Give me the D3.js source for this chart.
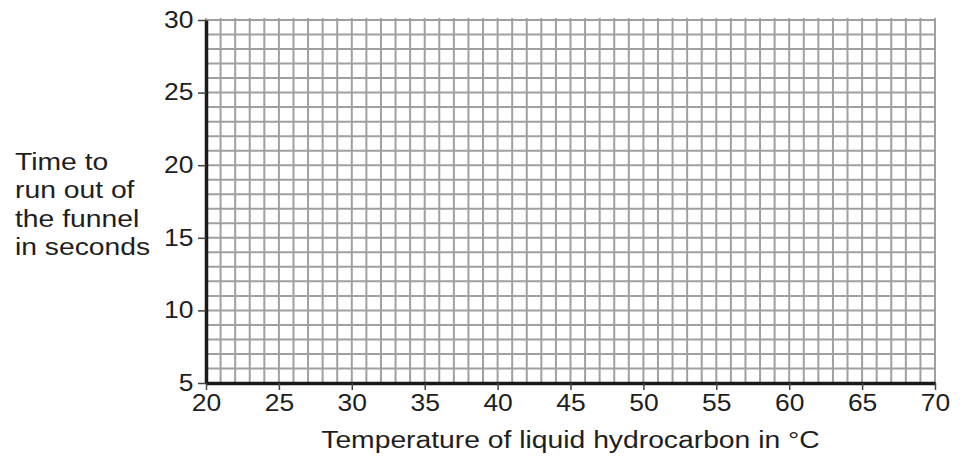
<!DOCTYPE html>
<html>
<head>
<meta charset="utf-8">
<script src="https://cdn.jsdelivr.net/npm/d3@7"></script>
<style>
  body { margin: 0; background: #fff; }
  svg { display: block; font-family: "Liberation Sans", Arial, sans-serif; }
</style>
</head>
<body>
<script>
// axis ranges and tick labels
const xDomain = [20, 70];
const yDomain = [5, 30];
const xTicks = [20, 25, 30, 35, 40, 45, 50, 55, 60, 65, 70];
const yTicks = [5, 10, 15, 20, 25, 30];
const xTitle = "Temperature of liquid hydrocarbon in °C";
const yTitleLines = ["Time to", "run out of", "the funnel", "in seconds"];

const width = 960;
const height = 461;
const margin = { top: 20, right: 25, bottom: 78, left: 206 };
// the scanned sheet is a bit wider than tall, so text is stretched sideways
const stretch = 1.23;

const svg = d3.select("body")
  .append("svg")
  .attr("width", width)
  .attr("height", height);

const x = d3.scaleLinear()
  .domain(xDomain)
  .range([margin.left, width - margin.right]);

const y = d3.scaleLinear()
  .domain(yDomain)
  .range([height - margin.bottom, margin.top]);

// fine grid, one line per unit
const grid = svg.append("g").attr("stroke", "#a0a0a0").attr("stroke-width", 2);

grid.selectAll(".vgrid")
  .data(x.ticks(xDomain[1] - xDomain[0]))
  .enter()
  .append("line")
  .attr("x1", d => x(d))
  .attr("x2", d => x(d))
  .attr("y1", y(yDomain[1]) - 2)
  .attr("y2", y(yDomain[0]));

grid.selectAll(".hgrid")
  .data(y.ticks(yDomain[1] - yDomain[0]))
  .enter()
  .append("line")
  .attr("x1", x(xDomain[0]))
  .attr("x2", x(xDomain[1]) + 1)
  .attr("y1", d => y(d))
  .attr("y2", d => y(d));

// axes
const xAxis = svg.append("g")
  .attr("transform", `translate(0,${y(yDomain[0])})`)
  .call(d3.axisBottom(x).tickValues(xTicks).tickSize(7).tickPadding(5).tickSizeOuter(0));

const yAxis = svg.append("g")
  .attr("transform", `translate(${x(xDomain[0])},0)`)
  .call(d3.axisLeft(y).tickValues(yTicks).tickSize(8).tickPadding(3).tickSizeOuter(0));

[xAxis, yAxis].forEach(g => {
  g.select(".domain").attr("stroke", "#1a1a1a").attr("stroke-width", 3.5);
  g.selectAll(".tick line").attr("stroke", "#444").attr("stroke-width", 1.5);
  g.selectAll(".tick text")
    .attr("fill", "#1e1e1e")
    .attr("transform", "scale(1.15,1)")
    .style("font-size", "23px")
    .style("font-family", "\"Liberation Sans\", Arial, sans-serif");
});

// titles
svg.append("g")
  .attr("transform", `translate(${(x(xDomain[0]) + x(xDomain[1])) / 2},448) scale(${stretch},1)`)
  .append("text")
  .attr("text-anchor", "middle")
  .attr("fill", "#1e1e1e")
  .style("font-size", "23px")
  .text(xTitle);

svg.append("g")
  .attr("transform", `translate(15,0) scale(${stretch},1)`)
  .selectAll("text")
  .data(yTitleLines)
  .enter()
  .append("text")
  .attr("x", 0)
  .attr("y", (d, i) => 170 + i * 28.3)
  .attr("fill", "#1e1e1e")
  .style("font-size", "23px")
  .text(d => d);
</script>
</body>
</html>
